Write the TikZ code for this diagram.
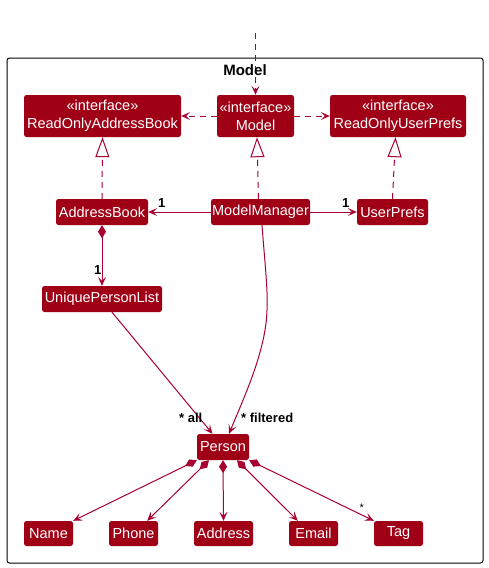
\documentclass[tikz,border=0pt]{standalone}
\usepackage{fontspec}
\setmainfont{Liberation Sans}
\usetikzlibrary{arrows.meta}
\definecolor{boxred}{HTML}{A00016}
\definecolor{linered}{HTML}{A80030}
\tikzset{
  cls/.style={fill=boxred, text=white, rounded corners=2.5pt, inner sep=0pt,
    font=\fontsize{14.5}{18}\selectfont, align=center},
  lbl/.style={inner sep=0pt, anchor=base west, font=\fontsize{13}{15}\selectfont\bfseries},
  dep/.style={draw=linered, line width=1pt, dash pattern=on 6pt off 5pt, -{Stealth[length=9pt,width=8pt,inset=4pt]}},
  real/.style={draw=linered, line width=1pt, dash pattern=on 6pt off 5pt, -{Triangle[length=20pt,width=14pt,fill=white]}},
  assoc/.style={draw=linered, line width=1pt, -{Stealth[length=9pt,width=8pt,inset=4pt]}},
  comp/.style={draw=linered, line width=1pt, {Diamond[length=13pt,width=8pt]}-{Stealth[length=9pt,width=8pt,inset=4pt]}}
}
\begin{document}
\begin{tikzpicture}[x=1pt,y=-1pt]
\useasboundingbox (0,0) rectangle (488,568);
% package frame
\draw[black, line width=1pt, rounded corners=2.5pt] (7,58) rectangle (483,563);
\coordinate (top) at (255.5,33);

% nodes
\node[cls, minimum width=157pt, minimum height=42pt] (roab) at (102.5,116) {«interface»\\ReadOnlyAddressBook};
\node[cls, minimum width=77pt, minimum height=42pt] (model) at (255.5,116) {«interface»\\Model};
\node[cls, minimum width=136pt, minimum height=42pt] (roup) at (398,116) {«interface»\\ReadOnlyUserPrefs};
\node[cls, minimum width=92pt, minimum height=26pt] (ab) at (102,212) {AddressBook};
\node[cls, minimum width=99pt, minimum height=26pt] (mm) at (260.5,212) {ModelManager};
\node[cls, minimum width=71pt, minimum height=26pt] (up) at (392.5,212) {UserPrefs};
\node[cls, minimum width=120pt, minimum height=26pt] (upl) at (102,299) {UniquePersonList};
\node[cls, minimum width=52pt, minimum height=26pt] (person) at (223,447) {Person};
\node[cls, minimum width=49pt, minimum height=25pt] (name) at (48.5,533.5) {Name};
\node[cls, minimum width=49pt, minimum height=25pt] (phone) at (133.5,533.5) {Phone};
\node[cls, minimum width=59pt, minimum height=25pt] (address) at (223.5,533.5) {Address};
\node[cls, minimum width=49pt, minimum height=25pt] (email) at (313.5,533.5) {Email};
\node[cls, minimum width=49pt, minimum height=25pt] (tag) at (398.5,533.5) {Tag};

% connectors
\draw[dep] (top) -- (model.north);
\node[inner sep=0pt, anchor=base, font=\fontsize{15}{17}\selectfont\bfseries] (title) at (245,75) {Model};
\draw[dep] (model.west) -- (roab.east);
\draw[dep] (model.east) -- (roup.west);
\draw[real] (ab.north) -- (roab.south);
\draw[real] ([xshift=-2pt]mm.north) -- ([xshift=1.5pt]model.south);
\draw[real] (up.north) -- ([xshift=-2.5pt]roup.south);
\draw[assoc] (mm.west) -- (ab.east);
\draw[assoc] (mm.east) -- (up.west);
\draw[comp] (ab.south) -- (upl.north);
\draw[assoc] ([xshift=10pt]upl.south) -- ([xshift=-10.5pt]person.north);
\draw[assoc] ([xshift=1.5pt]mm.south) .. controls (265,265) and (268,290) .. (267,310)
   .. controls (266,350) and (245,395) .. ([xshift=6pt]person.north);
\draw[comp] (person.south west) -- (name.north east);
\draw[comp] ([xshift=-14pt]person.south) -- ([xshift=-11pt]phone.north east);
\draw[comp] (person.south) -- (address.north);
\draw[comp] ([xshift=14pt]person.south) -- ([xshift=9pt]email.north west);
\draw[comp] (person.south east) -- (tag.north west);

% labels
\node[lbl] (l1) at (158,207) {1};
\node[lbl] (l2) at (342,207) {1};
\node[lbl] (l3) at (94,274) {1};
\node[lbl] (l4) at (179,422) {* all};
\node[lbl] (l5) at (241,422) {* filtered};
\node[inner sep=0pt, anchor=base west, font=\fontsize{11}{13}\selectfont] (l6) at (359.5,511) {*};
\end{tikzpicture}
\end{document}
